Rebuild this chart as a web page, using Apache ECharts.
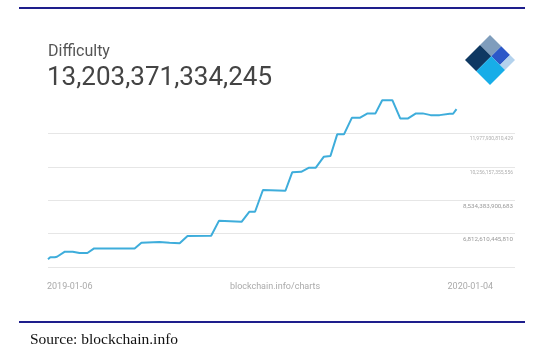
<!DOCTYPE html>
<html>
<head>
<meta charset="utf-8">
<script src="https://cdn.jsdelivr.net/npm/echarts@6/dist/echarts.min.js"></script>
<style>
html,body{margin:0;padding:0;background:#fff;}
#main{width:545px;height:351px;}
</style>
</head>
<body>
<div id="main"></div>
<script>
// difficulty (2019-01-06 .. 2020-01-04)
var dates = ["2019-01-06","2019-01-08","2019-01-12","2019-01-14","2019-01-21","2019-01-28","2019-02-03",
  "2019-02-10","2019-02-16","2019-03-24","2019-03-30","2019-04-15","2019-04-24","2019-05-03","2019-05-10",
  "2019-05-31","2019-06-07","2019-06-27","2019-07-04","2019-07-09","2019-07-16","2019-08-05","2019-08-11",
  "2019-08-19","2019-08-26","2019-09-01","2019-09-08","2019-09-14","2019-09-20","2019-09-26","2019-10-03",
  "2019-10-10","2019-10-17","2019-10-24","2019-10-30","2019-11-08","2019-11-15","2019-11-22","2019-11-29",
  "2019-12-05","2019-12-12","2019-12-20","2019-12-29","2020-01-01","2020-01-04"];
var difficulty = [5.49e12,5.59e12,5.59e12,5.62e12,5.88e12,5.88e12,5.81e12,
  5.81e12,6.05e12,6.05e12,6.34e12,6.38e12,6.34e12,6.31e12,6.69e12,
  6.70e12,7.48e12,7.42e12,7.94e12,7.94e12,9.06e12,9.02e12,9.97e12,
  10.00e12,10.21e12,10.21e12,10.77e12,10.81e12,11.93e12,11.93e12,12.78e12,
  12.78e12,13.01e12,13.01e12,13.69e12,13.69e12,12.75e12,12.75e12,13.01e12,
  13.01e12,12.92e12,12.92e12,12.99e12,12.99e12,13.23e12];
var yMin = 5090836990937;
var yStep = 1721773454873;
var yMax = 13699704265302;
var xMin = "2019-01-06", xMax = "2020-02-25";
var headline = "13,203,371,334,245";
var footer = ["2019-01-06", "blockchain.info/charts", "2020-01-04"];

function diamond(u0,u1,v0,v1){
  // logo cell in rotated square coords
  var P = function(u,v){ return [490 + 25*(u-v), 35 + 25*(u+v)]; };
  return [P(u0,v0), P(u1,v0), P(u1,v1), P(u0,v1)];
}
var logo = [
  {c:"#7f9dbc", r:[0,0.45,0,0.4]},
  {c:"#0f3862", r:[0,0.45,0.4,1]},
  {c:"#2c58c8", r:[0.45,0.8,0,0.4]},
  {c:"#b3d2ed", r:[0.8,1,0,0.4]},
  {c:"#17ade8", r:[0.45,1,0.4,1]}
];

var ch = echarts.init(document.getElementById("main"), null, {renderer:"canvas"});
var F = "Roboto, 'Noto Sans', sans-serif";
var g = [
  {type:"line", shape:{x1:19,y1:8,x2:525,y2:8}, style:{stroke:"#1e1e8c", lineWidth:2}},
  {type:"line", shape:{x1:19,y1:322,x2:525,y2:322}, style:{stroke:"#1e1e8c", lineWidth:2}},
  {type:"text", left:48, top:44, style:{text:"Difficulty", font:"16px "+F, fill:"#555"}},
  {type:"text", left:47, top:65, style:{text:headline, font:"26px "+F, fill:"#444"}},
  {type:"text", left:47, top:282, style:{text:footer[0], font:"9px "+F, fill:"#aaa"}},
  {type:"text", x:275, y:287, style:{text:footer[1], font:"9px "+F, fill:"#aaa", align:"center", verticalAlign:"middle"}},
  {type:"text", x:493, y:287, style:{text:footer[2], font:"9px "+F, fill:"#aaa", align:"right", verticalAlign:"middle"}},
  {type:"text", left:30, top:332, style:{text:"Source: blockchain.info", font:"15.5px 'Liberation Serif', 'Times New Roman', serif", fill:"#111"}}
];
logo.forEach(function(l){
  g.push({type:"polygon", shape:{points:diamond(l.r[0],l.r[1],l.r[2],l.r[3])}, style:{fill:l.c}});
});

ch.setOption({
  animation:false,
  backgroundColor:"#fff",
  grid:{left:48, right:30, top:100, bottom:84, containLabel:false},
  xAxis:{type:"time", min:xMin, max:xMax,
    axisLine:{show:false}, axisTick:{show:false}, axisLabel:{show:false}, splitLine:{show:false}},
  yAxis:{type:"value", position:"right", min:yMin, max:yMax, interval:yStep,
    axisLine:{show:false}, axisTick:{show:false},
    splitLine:{showMaxLine:false, lineStyle:{color:"#e6e6e6", width:1}},
    axisLabel:{inside:true, margin:2, showMinLabel:false, showMaxLabel:false,
      verticalAlign:"top", padding:[3,0,0,0], color:"#aaa",
      formatter:function(v){
        var s = Math.round(v).toLocaleString("en-US");
        return v > 9e12 ? "{s|"+s+"}" : "{b|"+s+"}";
      },
      rich:{ s:{fontSize:5, fontFamily:F, color:"#b0b0b0"}, b:{fontSize:6.2, fontFamily:F, color:"#9a9a9a"} }
    }
  },
  series:[{type:"line", data:dates.map(function(d,i){ return [d, difficulty[i]]; }),
    symbol:"none", clip:false, lineStyle:{color:"#3eaddb", width:2}, emphasis:{disabled:true}}],
  graphic:g
});
</script>
</body>
</html>
